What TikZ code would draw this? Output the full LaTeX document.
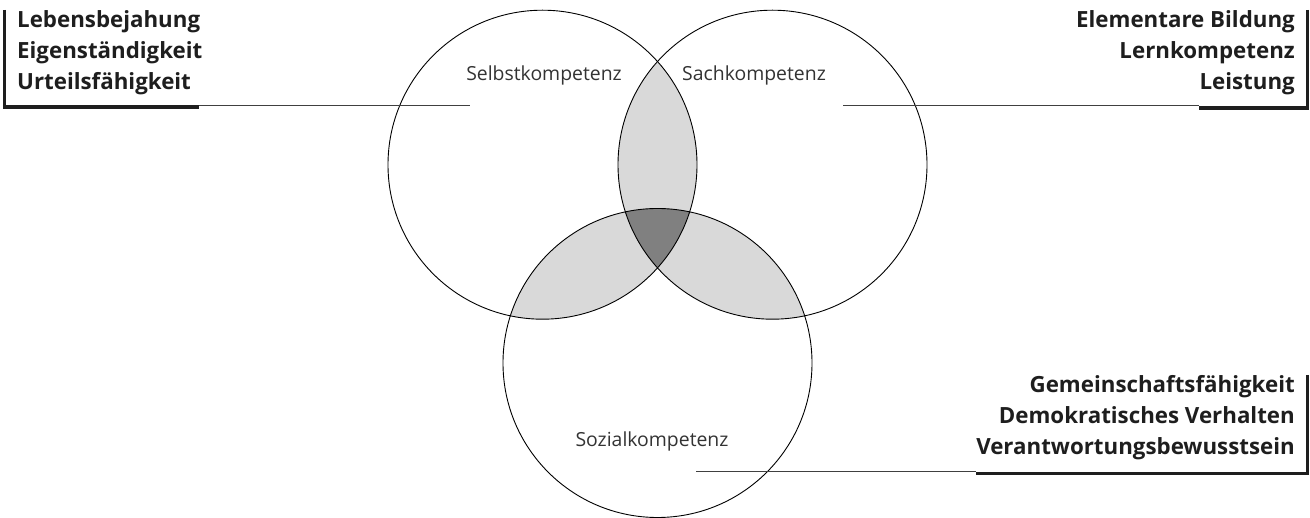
\documentclass[tikz,border=0pt]{standalone}
\usepackage{fontspec}
\setmainfont{Open Sans}
\definecolor{lightfill}{HTML}{D9D9D9}
\definecolor{darkfill}{HTML}{808080}
\definecolor{labelgray}{HTML}{333333}
\definecolor{textblack}{HTML}{1E1E1E}
\begin{document}
\begin{tikzpicture}[x=1pt,y=-1pt,
  ring/.style={circle, draw=black, line width=0.9pt, minimum size=309pt, inner sep=0pt},
  circlabel/.style={font=\fontsize{19.4}{23}\selectfont, text=labelgray, inner sep=0pt},
  item/.style={font=\bfseries\fontsize{22.3}{26}\selectfont, text=textblack, inner sep=0pt},
  bar/.style={draw=textblack, line width=3.5pt},
  leader/.style={draw=black!75, line width=1pt}]
\useasboundingbox (0,0) rectangle (1310,518);
\def\R{154.5pt}
\coordinate (cA) at (542.5,164.7);
\coordinate (cB) at (772.5,164.7);
\coordinate (cC) at (657.5,363);
% pairwise overlaps
\begin{scope}
  \clip (cA) circle[radius=\R];
  \fill[lightfill] (cB) circle[radius=\R];
  \fill[lightfill] (cC) circle[radius=\R];
\end{scope}
\begin{scope}
  \clip (cB) circle[radius=\R];
  \fill[lightfill] (cC) circle[radius=\R];
\end{scope}
% triple overlap
\begin{scope}
  \clip (cA) circle[radius=\R];
  \clip (cB) circle[radius=\R];
  \fill[darkfill] (cC) circle[radius=\R];
\end{scope}
\node[ring] (A) at (cA) {};
\node[ring] (B) at (cB) {};
\node[ring] (C) at (cC) {};
% circle labels
\node[circlabel, anchor=base] (selbst) at (544,81) {Selbstkompetenz};
\node[circlabel, anchor=base] (sach) at (754,81) {Sachkompetenz};
\node[circlabel, anchor=base] (sozial) at (652,447) {Sozialkompetenz};
% left block
\node[item, anchor=base west] (l1) at (17,28) {Lebensbejahung};
\node[item, anchor=base west] (l2) at (17,59) {Eigenständigkeit};
\node[item, anchor=base west] (l3) at (17,90) {Urteilsfähigkeit};
\coordinate (lTop) at (4.5,10);
\coordinate (lCorner) at (4.5,107);
\coordinate (lEnd) at (199,107);
\coordinate (lLead) at (470,106);
\draw[bar] (lTop) -- (lCorner);
\draw[bar] ([xshift=-1.75pt]lCorner) -- (lEnd);
\draw[leader] (lEnd |- lLead) -- (lLead);
% top right block
\node[item, anchor=base east] (r1) at (1295,28) {Elementare Bildung};
\node[item, anchor=base east] (r2) at (1295,59) {Lernkompetenz};
\node[item, anchor=base east] (r3) at (1295,90) {Leistung};
\coordinate (rTop) at (1307.5,10);
\coordinate (rCorner) at (1307.5,108);
\coordinate (rLead) at (843,106);
\draw[bar] (rTop) -- ([yshift=-1.75pt]rCorner);
\draw[bar] (r3.west |- rCorner) -- ([xshift=1.75pt]rCorner);
\draw[leader] (rLead) -- (r3.west |- rLead);
% bottom right block
\node[item, anchor=base east] (s1) at (1295,393) {Gemeinschaftsfähigkeit};
\node[item, anchor=base east] (s2) at (1295,424) {Demokratisches Verhalten};
\node[item, anchor=base east] (s3) at (1295,455) {Verantwortungsbewusstsein};
\coordinate (sTop) at (1307.5,375);
\coordinate (sCorner) at (1307.5,473.5);
\coordinate (sLead) at (696,472);
\draw[bar] (sTop) -- ([yshift=-1.75pt]sCorner);
\draw[bar] (s3.west |- sCorner) -- ([xshift=1.75pt]sCorner);
\draw[leader] (sLead) -- (s3.west |- sLead);
\end{tikzpicture}
\end{document}
